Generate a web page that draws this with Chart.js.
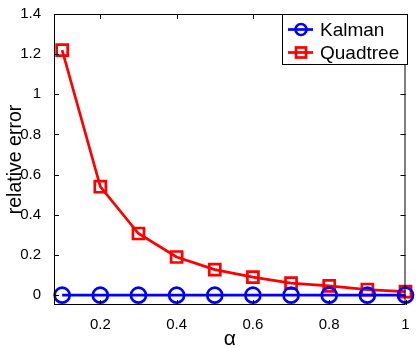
<!DOCTYPE html>
<html>
<head>
<meta charset="utf-8">
<script src="https://cdn.jsdelivr.net/npm/chart.js@4/dist/chart.umd.min.js"></script>
<style>
  html, body { margin: 0; padding: 0; background: #fff; }
  #wrap { width: 416px; height: 348px; }
</style>
</head>
<body>
<div id="wrap"><canvas id="chart"></canvas></div>
<script>
// data
const alphas = [0.1, 0.2, 0.3, 0.4, 0.5, 0.6, 0.7, 0.8, 0.9, 1.0];
const kalman = [0, 0, 0, 0, 0, 0, 0, 0, 0, 0];
const quadtree = [1.22, 0.54, 0.307, 0.19, 0.127, 0.09, 0.06, 0.046, 0.028, 0.018];
const xTicks = [0.2, 0.4, 0.6, 0.8, 1.0];
const yTicks = [0, 0.2, 0.4, 0.6, 0.8, 1.0, 1.2, 1.4];

const FONT = "'Liberation Sans', Arial, Helvetica, sans-serif";

const toPoints = (ys) => alphas.map((a, i) => ({ x: a, y: ys[i] }));
const fmt = (v) => String(+v.toFixed(1));

// matlab style box with inward ticks on all four sides
const boxPlugin = {
  id: 'box',
  afterDraw(chart) {
    const { ctx, chartArea: a, scales } = chart;
    const len = 5;
    ctx.save();
    ctx.strokeStyle = '#000';
    ctx.lineWidth = 1;
    ctx.strokeRect(a.left + 0.5, a.top + 0.5, a.right - a.left - 1, a.bottom - a.top - 1);
    ctx.beginPath();
    xTicks.forEach(v => {
      const px = Math.round(scales.x.getPixelForValue(v)) + 0.5;
      ctx.moveTo(px, a.bottom); ctx.lineTo(px, a.bottom - len);
      ctx.moveTo(px, a.top); ctx.lineTo(px, a.top + len);
    });
    yTicks.forEach(v => {
      const py = Math.round(scales.y.getPixelForValue(v)) + 0.5;
      ctx.moveTo(a.left, py); ctx.lineTo(a.left + len, py);
      ctx.moveTo(a.right, py); ctx.lineTo(a.right - len, py);
    });
    ctx.stroke();
    ctx.restore();
  }
};

// legend drawn by hand so the line runs through the marker
const legendPlugin = {
  id: 'mlegend',
  afterDraw(chart) {
    const { ctx } = chart;
    const bx = 282, by = 14, bw = 125, bh = 50;
    ctx.save();
    ctx.fillStyle = '#fff';
    ctx.fillRect(bx, by, bw, bh);
    ctx.strokeStyle = '#000';
    ctx.lineWidth = 1;
    ctx.strokeRect(bx + 0.5, by + 0.5, bw, bh);
    ctx.font = '19px ' + FONT;
    ctx.textBaseline = 'middle';
    chart.data.datasets.forEach((ds, i) => {
      const cy = by + 15.5 + i * 23;
      const cx = 301;
      ctx.strokeStyle = ds.borderColor;
      ctx.lineWidth = 2.7;
      ctx.beginPath();
      ctx.moveTo(cx - 13, cy); ctx.lineTo(cx + 12, cy);
      ctx.stroke();
      if (ds.pointStyle === 'rect') {
        ctx.strokeRect(cx - 5, cy - 5, 10, 10);
      } else {
        ctx.beginPath();
        ctx.arc(cx, cy, 5.5, 0, Math.PI * 2);
        ctx.stroke();
      }
      ctx.fillStyle = '#000';
      ctx.fillText(ds.label, 320, cy + 1);
    });
    ctx.restore();
  }
};

new Chart(document.getElementById('chart'), {
  type: 'line',
  data: {
    datasets: [
      {
        label: 'Kalman',
        data: toPoints(kalman),
        borderColor: '#0000ff',
        backgroundColor: 'transparent',
        borderWidth: 2.7,
        pointStyle: 'circle',
        pointRadius: 7.5,
        pointBorderWidth: 2.7,
        pointBackgroundColor: 'transparent',
        clip: false
      },
      {
        label: 'Quadtree',
        data: toPoints(quadtree),
        borderColor: '#ff0000',
        backgroundColor: 'transparent',
        borderWidth: 2.7,
        pointStyle: 'rect',
        pointRadius: 7.8,
        pointBorderWidth: 2.7,
        pointBackgroundColor: 'transparent',
        clip: false
      }
    ]
  },
  options: {
    responsive: true,
    maintainAspectRatio: false,
    animation: false,
    layout: { padding: { top: 9, right: 4, left: 0, bottom: 0 } },
    plugins: {
      legend: { display: false },
      tooltip: { enabled: false }
    },
    scales: {
      x: {
        type: 'linear',
        min: 0.0786,
        max: 1.0,
        afterBuildTicks: (s) => { s.ticks = xTicks.map(v => ({ value: v })); },
        afterFit: (s) => { s.height = 43; },
        grid: { display: false },
        border: { display: false },
        ticks: {
          autoSkip: false, maxRotation: 0, padding: 3,
          color: '#000', font: { family: FONT, size: 15 },
          callback: (v) => fmt(v)
        },
        title: {
          display: true, text: 'α', color: '#000',
          font: { family: FONT, size: 21, lineHeight: 0.8 }, padding: { top: 0, bottom: 0 }
        }
      },
      y: {
        type: 'linear',
        min: -0.049,
        max: 1.4,
        afterBuildTicks: (s) => { s.ticks = yTicks.map(v => ({ value: v })); },
        afterFit: (s) => { s.width = 54; },
        grid: { display: false },
        border: { display: false },
        ticks: {
          padding: 5, color: '#000', font: { family: FONT, size: 15 },
          callback: (v) => fmt(v)
        },
        title: {
          display: true, text: 'relative error', color: '#000',
          font: { family: FONT, size: 19.5, lineHeight: 1 }, padding: { top: 6, bottom: 0 }
        }
      }
    }
  },
  plugins: [boxPlugin, legendPlugin]
});
</script>
</body>
</html>
